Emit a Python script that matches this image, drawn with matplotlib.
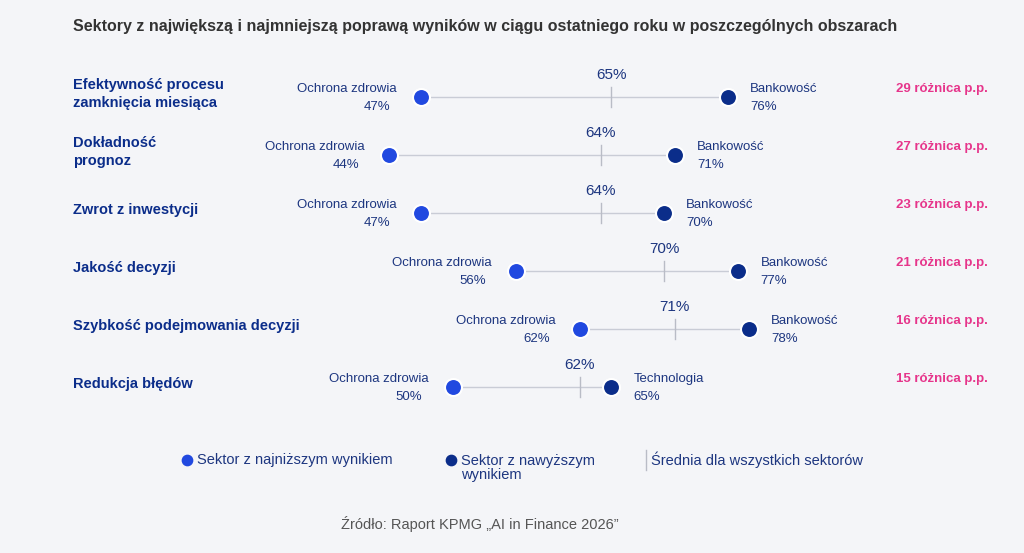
import matplotlib.pyplot as plt

plt.rcParams['font.family'] = ['Liberation Sans', 'DejaVu Sans']

# dane
obszary = ['Efektywność procesu\nzamknięcia miesiąca', 'Dokładność\nprognoz', 'Zwrot z inwestycji',
           'Jakość decyzji', 'Szybkość podejmowania decyzji', 'Redukcja błędów']
sektor_min = ['Ochrona zdrowia'] * 6
wynik_min = [47, 44, 47, 56, 62, 50]
sektor_max = ['Bankowość', 'Bankowość', 'Bankowość', 'Bankowość', 'Bankowość', 'Technologia']
wynik_max = [76, 71, 70, 77, 78, 65]
srednia = [65, 64, 64, 70, 71, 62]
roznica = [29, 27, 23, 21, 16, 15]

BG = '#f4f5f8'
C_LOW = '#2149e0'
C_HIGH = '#0b2d8a'
C_TXT = '#1d3680'
C_PINK = '#e6358b'

W, H = 1024, 553
fig = plt.figure(figsize=(W / 100, H / 100), dpi=100, facecolor=BG)
ax = fig.add_axes([0, 0, 1, 1], facecolor=BG)
# os x w procentach, os y w pikselach
x0, k = -77.0, 10.59
ax.set_xlim(-x0 / k, (W - x0) / k)
ax.set_ylim(H, 0)
ax.axis('off')

px = 1 / k  # 1 piksel w jednostkach osi x
fig.text(73 / W, 1 - 27 / H, 'Sektory z największą i najmniejszą poprawą wyników w ciągu ostatniego roku w poszczególnych obszarach',
         fontsize=11.5, fontweight='bold', color='#333333', va='center')

for i in range(6):
    y = 97 + 58 * i
    lo, hi, m = wynik_min[i], wynik_max[i], srednia[i]
    ax.plot([lo, hi], [y, y], color='#c9ccd6', lw=1, zorder=1)
    ax.plot([m, m], [y - 10, y + 10], color='#b9bcc6', lw=1, zorder=1)
    ax.text(m, y - 22, f'{m}%', ha='center', va='center', fontsize=11, color=C_TXT)
    ax.scatter([lo], [y], s=150, color=C_LOW, edgecolor='white', linewidth=1.5, zorder=3)
    ax.scatter([hi], [y], s=150, color=C_HIGH, edgecolor='white', linewidth=1.5, zorder=3)
    ax.text(lo - 24 * px, y - 8, sektor_min[i], ha='right', va='center', fontsize=9.5, color=C_TXT)
    ax.text(lo - 30 * px, y + 10, f'{lo}%', ha='right', va='center', fontsize=9.5, color=C_TXT)
    ax.text(hi + 22 * px, y - 8, sektor_max[i], ha='left', va='center', fontsize=9.5, color=C_TXT)
    ax.text(hi + 22 * px, y + 10, f'{hi}%', ha='left', va='center', fontsize=9.5, color=C_TXT)
    ax.text((73 - x0) / k, y - 3, obszary[i], ha='left', va='center', fontsize=10.5,
            fontweight='bold', color=C_HIGH, linespacing=1.3)
    ax.text((988 - x0) / k, y - 8, f'{roznica[i]} różnica p.p.', ha='right', va='center',
            fontsize=9.5, fontweight='bold', color=C_PINK)

# legenda
ly = 460
ax.scatter([(187 - x0) / k], [ly], s=55, color=C_LOW, zorder=3)
ax.text((197 - x0) / k, ly, 'Sektor z najniższym wynikiem', va='center', fontsize=10.5, color=C_TXT)
ax.scatter([(451 - x0) / k], [ly], s=55, color=C_HIGH, zorder=3)
ax.text((461 - x0) / k, ly + 8, 'Sektor z nawyższym\nwynikiem', va='center', fontsize=10.5,
        color=C_TXT, linespacing=1.0)
ax.plot([(646 - x0) / k] * 2, [ly - 10, ly + 10], color='#b9bcc6', lw=1)
ax.text((651 - x0) / k, ly, 'Średnia dla wszystkich sektorów', va='center', fontsize=10.5, color=C_TXT)

fig.text(480 / W, 1 - 524 / H, 'Źródło: Raport KPMG „AI in Finance 2026”', ha='center', va='center',
         fontsize=10.5, color='#555555')

fig.savefig('out.png', dpi=100, facecolor=BG)
